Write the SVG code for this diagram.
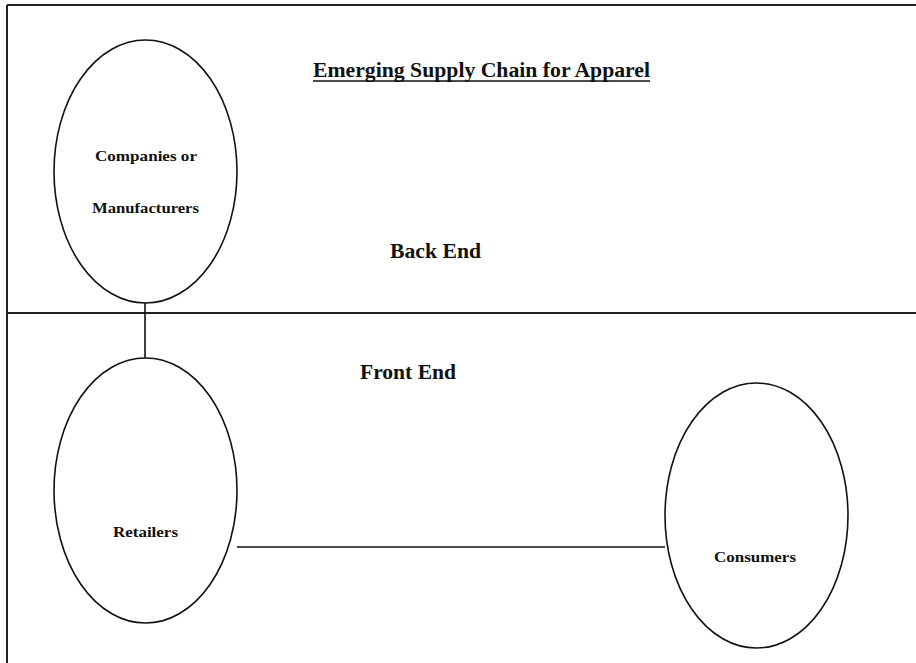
<svg xmlns="http://www.w3.org/2000/svg" width="916" height="663" viewBox="0 0 916 663">
<style>
.frame{stroke:#222;stroke-width:2;fill:none}
.node{fill:#fff;stroke:#111;stroke-width:1.6}
.conn{stroke:#111;stroke-width:1.6;fill:none}
text{font-family:"Liberation Serif","DejaVu Serif",serif;font-weight:bold;fill:#111}
.small{font-size:14px}
.big{font-size:21px}
</style>
<rect width="916" height="663" fill="#fff"/>
<g id="frame">
<line class="frame" x1="7" y1="5" x2="916" y2="5"/>
<line class="frame" x1="7" y1="5" x2="7" y2="663"/>
<line class="frame" x1="7" y1="313" x2="916" y2="313"/>
</g>
<g id="labels">
<text x="313" y="77" class="big" textLength="337" lengthAdjust="spacingAndGlyphs">Emerging Supply Chain for Apparel</text>
<line x1="313" y1="81" x2="650" y2="81" stroke="#111" stroke-width="1.6"/>
<text x="390" y="258" class="big" textLength="91" lengthAdjust="spacingAndGlyphs">Back End</text>
<text x="360" y="379" class="big" textLength="96" lengthAdjust="spacingAndGlyphs">Front End</text>
</g>
<g id="connectors">
<line class="conn" x1="145" y1="303" x2="145" y2="358"/>
<line class="conn" x1="237" y1="547" x2="665" y2="547"/>
</g>
<g id="companies">
<ellipse class="node" cx="145.5" cy="171.5" rx="91.5" ry="131.5"/>
<text x="95" y="161" class="small" textLength="102" lengthAdjust="spacingAndGlyphs">Companies or</text>
<text x="92" y="213" class="small" textLength="107" lengthAdjust="spacingAndGlyphs">Manufacturers</text>
</g>
<g id="retailers">
<ellipse class="node" cx="145.5" cy="490.5" rx="91.5" ry="132.5"/>
<text x="113" y="537" class="small" textLength="65" lengthAdjust="spacingAndGlyphs">Retailers</text>
</g>
<g id="consumers">
<ellipse class="node" cx="756.5" cy="515.5" rx="91.5" ry="132.5"/>
<text x="714" y="562" class="small" textLength="82" lengthAdjust="spacingAndGlyphs">Consumers</text>
</g>
</svg>
